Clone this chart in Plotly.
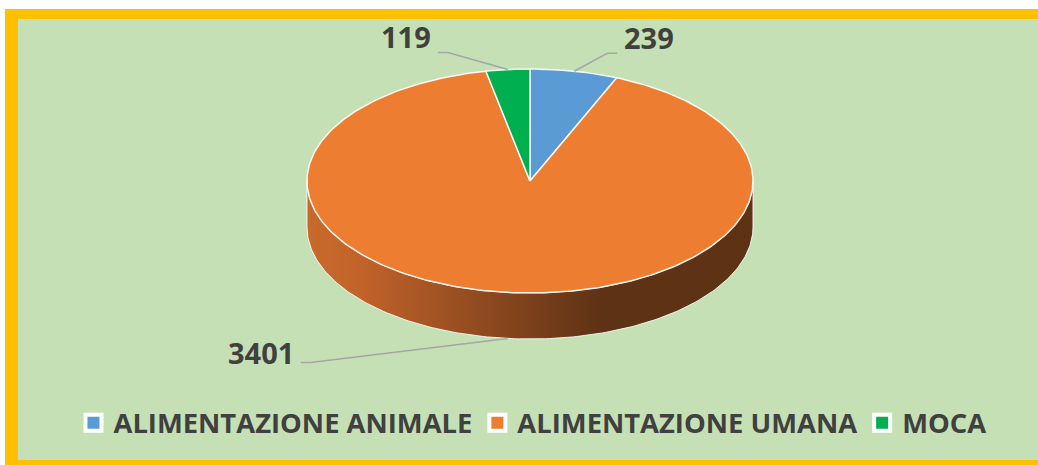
import math
import plotly.graph_objects as go

# ---- data ----
categories = ["ALIMENTAZIONE ANIMALE", "ALIMENTAZIONE UMANA", "MOCA"]
values = [239, 3401, 119]
colors = ["#5B9BD5", "#ED7D31", "#00B050"]
wall_scales = [
    [[0, "#3F6E9A"], [1, "#1F3F5E"]],
    [[0, "#C96A2C"], [0.12, "#C2632A"], [0.66, "#5E3215"], [1, "#5E3215"]],
    [[0, "#007A38"], [1, "#004A22"]],
]

# ---- geometry / style (pixel space) ----
W, H = 1038, 465
CX, CY, RX, RY, DEPTH = 530, 181, 223, 112, 46
TEXT_COLOR = "#404040"
LEADER_COLOR = "#A6A6A6"
FONT = "Open Sans"
# leader line offsets: (elbow dx, elbow dy, horizontal run)
leader_style = [(33, -18, 10), (-197, 24, -10), (-60, -17, -10)]


def pt(theta_deg, dy=0.0):
    t = math.radians(theta_deg)
    return CX + RX * math.sin(t), CY - RY * math.cos(t) + dy


def arc(a, b, dy=0.0, n=None):
    if n is None:
        n = max(2, int(abs(b - a) / 1.0) + 1)
    return [pt(a + (b - a) * i / (n - 1), dy) for i in range(n)]


total = float(sum(values))
angles = []
acc = 0.0
for v in values:
    a = acc / total * 360.0
    acc += v
    b = acc / total * 360.0
    angles.append((a, b))

fig = go.Figure()

# side walls (front half 90..270)
for (a, b), cs in zip(angles, wall_scales):
    lo, hi = max(a, 90.0), min(b, 270.0)
    if hi <= lo:
        continue
    top = arc(lo, hi)
    bot = arc(hi, lo, DEPTH)
    pts = top + bot + [top[0]]
    fig.add_trace(go.Scatter(
        x=[p[0] for p in pts], y=[p[1] for p in pts],
        mode="lines", fill="toself",
        fillgradient=dict(type="horizontal", colorscale=cs),
        line=dict(color="rgba(255,255,255,0.85)", width=1),
        hoverinfo="skip", showlegend=False))

# top face
for (a, b), c in zip(angles, colors):
    pts = [(CX, CY)] + arc(a, b) + [(CX, CY)]
    fig.add_trace(go.Scatter(
        x=[p[0] for p in pts], y=[p[1] for p in pts],
        mode="lines", fill="toself", fillcolor=c,
        line=dict(color="rgba(255,255,255,0.9)", width=1.5),
        hoverinfo="skip", showlegend=False))

# leader lines + labels
annotations = []
for (a, b), v, (edx, edy, run) in zip(angles, values, leader_style):
    mid = (a + b) / 2.0
    ax, ay = pt(mid)
    if math.cos(math.radians(mid)) < 0:
        ay += DEPTH
    ex, ey = ax + edx, ay + edy
    fx, fy = ex + run, ey
    fig.add_trace(go.Scatter(
        x=[ax, ex, fx], y=[ay, ey, fy], mode="lines",
        line=dict(color=LEADER_COLOR, width=1.5),
        hoverinfo="skip", showlegend=False))
    right = run > 0
    above = edy < 0
    annotations.append(dict(
        x=fx + (5 if right else -5), y=fy - (16 if above else 10),
        xref="x", yref="y", text=str(v), showarrow=False,
        xanchor="left" if right else "right", yanchor="middle",
        font=dict(family=FONT, size=29, color=TEXT_COLOR, weight="bold")))

# legend entries
for name, c in zip(categories, colors):
    fig.add_trace(go.Scatter(
        x=[None], y=[None], mode="markers", name=name,
        marker=dict(symbol="square", size=16, color=c,
                    line=dict(color="white", width=4))))

shapes = [
    dict(type="rect", xref="x", yref="y", x0=5, x1=1060, y0=9, y1=480,
         fillcolor="#FFC000", line=dict(width=0), layer="below"),
    dict(type="rect", xref="x", yref="y", x0=18, x1=1060, y0=19, y1=460,
         fillcolor="#C5E0B4", line=dict(width=0), layer="below"),
]

fig.update_layout(
    width=W, height=H,
    margin=dict(l=0, r=0, t=0, b=0),
    paper_bgcolor="white", plot_bgcolor="rgba(0,0,0,0)",
    xaxis=dict(range=[0, W], visible=False, fixedrange=True),
    yaxis=dict(range=[H, 0], visible=False, fixedrange=True),
    shapes=shapes, annotations=annotations,
    showlegend=True,
    legend=dict(orientation="h", x=0.513, xanchor="center", y=1 - 423 / H,
                yanchor="middle", bgcolor="rgba(0,0,0,0)",
                font=dict(family=FONT, size=27.4, color=TEXT_COLOR, weight="bold"),
                itemwidth=30),
)

fig.write_html(
    "out.html",
    config={"displayModeBar": False},
    post_script="document.body.style.margin='0';document.body.style.overflow='hidden';",
)
